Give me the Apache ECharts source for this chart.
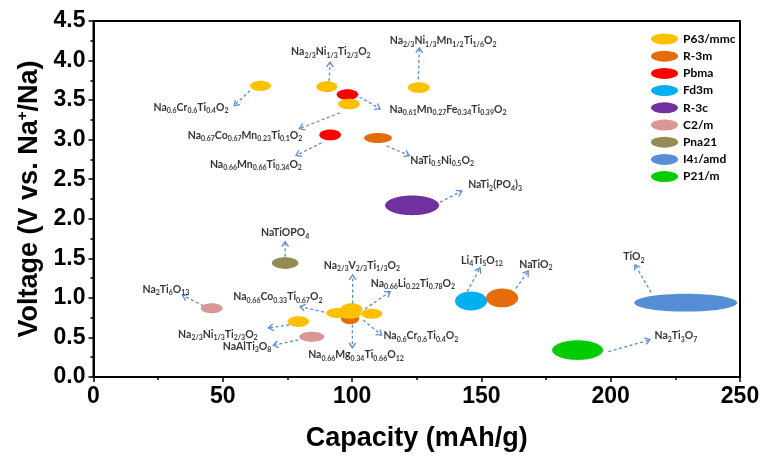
<!DOCTYPE html>
<html><head><meta charset="utf-8">
<script src="https://cdn.jsdelivr.net/npm/echarts@6/dist/echarts.min.js"></script>
<style>html,body{margin:0;padding:0;background:#fff}#c{width:765px;height:457px}</style>
</head><body><div id="c"></div>
<script>
// Phases: [capacity, voltage, capacity span, voltage span]
const phaseNames = ['P63/mmc','R-3m','Pbma','Fd3m','R-3c','C2/m','Pna21','I41/amd','P21/m'];
const p63mmc = [[64.6,3.68,8.1,0.13],[90.2,3.67,8.1,0.138],[98.8,3.45,8.4,0.134],[125.8,3.66,8.5,0.134],
                [79.2,0.70,8.4,0.134],[94.4,0.81,8.9,0.126],[99.8,0.86,8.4,0.147],[107.6,0.80,8.2,0.126],[99.2,0.80,8.5,0.126]];
const r3m = [[110.0,3.02,10.8,0.126],[99.2,0.735,7.0,0.138],[158.0,1.00,12.4,0.239]];
const pbma = [[98.2,3.57,8.4,0.134],[91.5,3.06,8.4,0.134]];
const fd3m = [[146.0,0.96,12.4,0.239]];
const r3c = [[123.2,2.17,20.9,0.251]];
const c2m = [[45.7,0.87,8.4,0.126],[84.4,0.51,9.7,0.126]];
const pna21 = [[74.1,1.44,10.3,0.147]];
const i41amd = [[229.0,0.94,39.8,0.226]];
const p21m = [[187.2,0.34,19.7,0.251]];

// Annotation labels: text ([..] = subscript), position in data units
const labelTexts = ['Na[0.6]Cr[0.6]Ti[0.4]O[2]','Na[2/3]Ni[1/3]Ti[2/3]O[2]','Na[2/3]Ni[1/3]Mn[1/2]Ti[1/6]O[2]',
  'Na[0.61]Mn[0.27]Fe[0.34]Ti[0.39]O[2]','Na[0.67]Co[0.67]Mn[0.23]Ti[0.1]O[2]','Na[0.66]Mn[0.66]Ti[0.34]O[2]',
  'NaTi[0.5]Ni[0.5]O[2]','NaTi[2](PO[4])[3]','NaTiOPO[4]','Na[2]Ti[6]O[13]','Na[0.66]Co[0.33]Ti[0.67]O[2]',
  'Na[2/3]Ni[1/3]Ti[2/3]O[2]','NaAlTi[3]O[8]','Na[2/3]V[2/3]Ti[1/3]O[2]','Na[0.66]Li[0.22]Ti[0.78]O[2]',
  'Na[0.6]Cr[0.6]Ti[0.4]O[2]','Na[0.66]Mg[0.34]Ti[0.66]O[12]','Li[4]Ti[5]O[12]','NaTiO[2]','TiO[2]','Na[2]Ti[3]O[7]'];
const labelX = [37.7,91.8,135.2,137.1,58.6,62.8,134.8,155.3,74.1,28.0,71.3,48.1,59.4,103.8,123.5,126.6,101.5,150.2,171.1,209.0,225.2];
const labelY = [3.41,4.11,4.25,3.38,3.05,2.69,2.74,2.43,1.82,1.11,1.01,0.54,0.39,1.41,1.18,0.52,0.28,1.47,1.42,1.52,0.52];
// Arrows: [fromX, fromY, toX, toY]
const arrows = [[60.5,3.62,54.4,3.43],[91.1,3.74,91.5,3.98],[125.6,3.76,126.0,4.16],[102.8,3.54,110.8,3.39],
  [95.3,3.34,79.6,3.14],[88.2,2.96,78.3,2.80],[113.4,2.92,122.1,2.80],[134.0,2.21,142.4,2.35],[74.1,1.52,74.1,1.71],
  [42.5,0.90,34.5,1.03],[89.1,0.82,79.9,0.89],[75.7,0.66,67.6,0.62],[79.2,0.47,69.5,0.40],[100.2,0.93,100.2,1.29],
  [105.0,0.86,114.7,1.08],[104.3,0.72,111.4,0.53],[100.1,0.66,100.1,0.37],[144.5,1.08,149.5,1.38],[163.4,1.12,168.1,1.34],
  [215.6,1.07,209.4,1.42],[199.1,0.32,215.2,0.47]];

const phaseData = [p63mmc, r3m, pbma, fd3m, r3c, c2m, pna21, i41amd, p21m];
const phaseColors = ['#FFC000','#E46C0A','#FF0000','#00B0F0','#7030A0','#D99694','#948A54','#558ED5','#00CC00'];
const phaseZ = [5,4,3,3,3,3,3,3,3];

const chart = echarts.init(document.getElementById('c'), null, {renderer:'canvas'});
const AXF = 'Liberation Sans';
const LBF = 'Lato';
const toRich = t => t.replace(/\[([^\]]+)\]/g, '{s|$1}');

const series = phaseNames.map((n, i) => ({
  name: n, type: 'custom', z: phaseZ[i], data: phaseData[i],
  itemStyle: {color: phaseColors[i]},
  renderItem: (params, api) => {
    const c = api.coord([api.value(0), api.value(1)]);
    const s = api.size([api.value(2), api.value(3)]);
    return {type: 'ellipse', shape: {cx: c[0], cy: c[1], rx: s[0] / 2, ry: s[1] / 2},
            style: {fill: phaseColors[i]}};
  }
}));

series.push({
  name: 'arrows', type: 'custom', z: 6, data: arrows, silent: true,
  renderItem: (params, api) => {
    const p1 = api.coord([api.value(0), api.value(1)]);
    const p2 = api.coord([api.value(2), api.value(3)]);
    const a = Math.atan2(p2[1] - p1[1], p2[0] - p1[0]);
    const L = 6, sp = 0.6;
    const h1 = [p2[0] - L * Math.cos(a - sp), p2[1] - L * Math.sin(a - sp)];
    const h2 = [p2[0] - L * Math.cos(a + sp), p2[1] - L * Math.sin(a + sp)];
    const col = '#5B8DD6';
    return {type: 'group', children: [
      {type: 'line', shape: {x1: p1[0], y1: p1[1], x2: p2[0], y2: p2[1]},
       style: {stroke: col, lineWidth: 1.3, lineDash: [3, 2.5]}},
      {type: 'polyline', shape: {points: [h1, p2, h2]}, style: {stroke: col, lineWidth: 1.3, fill: null}}
    ]};
  }
});

series.push({
  name: 'labels', type: 'scatter', z: 7, symbolSize: 0, silent: true,
  data: labelTexts.map((t, i) => ({name: t, value: [labelX[i], labelY[i]]})),
  label: {show: true, position: 'inside', color: '#000', fontFamily: LBF, fontWeight: 'bold', fontSize: 10.5, lineHeight: 14,
    formatter: p => toRich(p.name),
    rich: {s: {fontFamily: LBF, fontWeight: 'bold', fontSize: 7, lineHeight: 7, verticalAlign: 'bottom', color: '#000'}}}
});

const ellIcon = 'path://M0,5.5 A13.5,5.5 0 1,0 27,5.5 A13.5,5.5 0 1,0 0,5.5 Z';

chart.setOption({
  animation: false,
  backgroundColor: '#fff',
  grid: {left: 93.5, right: 25, top: 21, bottom: 78, show: true, borderColor: '#000', borderWidth: 2},
  legend: {
    orient: 'vertical', left: 646, top: 28, itemWidth: 27, itemHeight: 11, itemGap: 5.2,
    data: phaseNames.map(n => ({name: n, icon: ellIcon})),
    textStyle: {fontFamily: LBF, fontWeight: 'bold', fontSize: 12, color: '#000', lineHeight: 11,
      rich: {s: {fontFamily: LBF, fontWeight: 'bold', fontSize: 8, lineHeight: 8, verticalAlign: 'bottom', color: '#000'}}},
    formatter: n => n === 'I41/amd' ? 'I4{s|1}/amd' : n,
    selectedMode: false
  },
  xAxis: {
    type: 'value', min: 0, max: 250, interval: 50,
    name: 'Capacity (mAh/g)', nameLocation: 'middle', nameGap: 48,
    nameTextStyle: {fontFamily: AXF, fontWeight: 'bold', fontSize: 27, color: '#000'},
    axisLine: {lineStyle: {color: '#000', width: 2}},
    axisTick: {length: 5, lineStyle: {color: '#000', width: 1.5}},
    minorTick: {show: true, splitNumber: 2, length: 3, lineStyle: {color: '#000', width: 1.5}},
    axisLabel: {fontFamily: AXF, fontWeight: 'bold', fontSize: 23, color: '#000', margin: 8},
    splitLine: {show: false}
  },
  yAxis: {
    type: 'value', min: 0, max: 4.5, interval: 0.5,
    name: 'Voltage (V vs. Na{sup|+}/Na)', nameLocation: 'middle', nameGap: 50,
    nameTextStyle: {fontFamily: AXF, fontWeight: 'bold', fontSize: 27, color: '#000',
      rich: {sup: {fontFamily: AXF, fontWeight: 'bold', fontSize: 15, verticalAlign: 'top', color: '#000'}}},
    axisLine: {show: true, lineStyle: {color: '#000', width: 2}},
    axisTick: {show: true, length: 5, lineStyle: {color: '#000', width: 1.5}},
    minorTick: {show: true, splitNumber: 2, length: 3, lineStyle: {color: '#000', width: 1.5}},
    axisLabel: {fontFamily: AXF, fontWeight: 'bold', fontSize: 23, color: '#000', margin: 8,
      formatter: v => v.toFixed(1)},
    splitLine: {show: false}
  },
  series: series
});
</script></body></html>
